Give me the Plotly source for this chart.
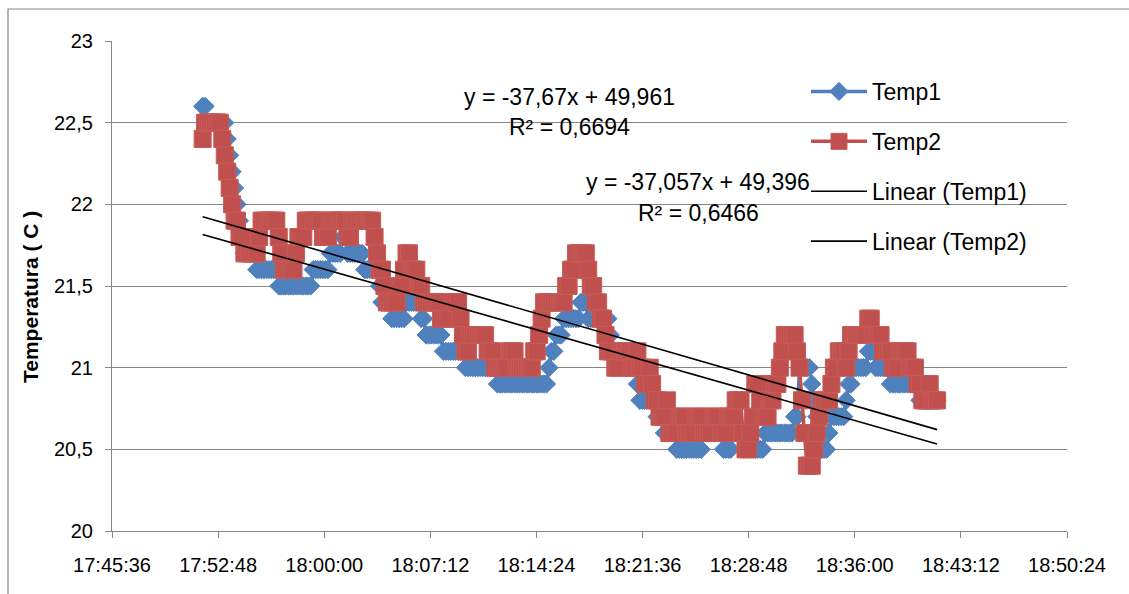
import pandas as pd
import plotly.graph_objects as go

# Logger readings, one sample every 10 s
START = "2013-05-20 17:51:45"
STEP_S = 10

temp1 = [
    22.6, 22.6, 22.5, 22.5, 22.5, 22.5, 22.5, 22.5, 22.5, 22.5,
    22.4, 22.3, 22.2, 22.1, 22.0, 21.9, 21.8, 21.7, 21.7, 21.7,
    21.7, 21.7, 21.6, 21.6, 21.6, 21.6, 21.6, 21.6, 21.6, 21.6,
    21.6, 21.5, 21.5, 21.5, 21.5, 21.5, 21.5, 21.5, 21.5, 21.5,
    21.5, 21.5, 21.5, 21.5, 21.5, 21.6, 21.6, 21.6, 21.6, 21.6,
    21.6, 21.6, 21.7, 21.7, 21.7, 21.7, 21.7, 21.8, 21.8, 21.7,
    21.7, 21.7, 21.7, 21.7, 21.7, 21.7, 21.6, 21.6, 21.6, 21.6,
    21.6, 21.6, 21.5, 21.4, 21.4, 21.4, 21.4, 21.3, 21.3, 21.3,
    21.3, 21.3, 21.3, 21.4, 21.4, 21.4, 21.4, 21.4, 21.4, 21.3,
    21.3, 21.2, 21.2, 21.2, 21.2, 21.2, 21.2, 21.2, 21.1, 21.1,
    21.1, 21.1, 21.1, 21.1, 21.1, 21.1, 21.1, 21.0, 21.0, 21.0,
    21.0, 21.0, 21.0, 21.0, 21.0, 21.0, 21.0, 21.0, 21.0, 21.0,
    20.9, 20.9, 20.9, 20.9, 20.9, 20.9, 20.9, 20.9, 20.9, 20.9,
    20.9, 20.9, 20.9, 20.9, 20.9, 20.9, 20.9, 20.9, 20.9, 20.9,
    20.9, 21.0, 21.1, 21.1, 21.2, 21.2, 21.2, 21.3, 21.3, 21.3,
    21.3, 21.3, 21.3, 21.3, 21.4, 21.4, 21.4, 21.3, 21.3, 21.3,
    21.3, 21.3, 21.3, 21.3, 21.3, 21.3, 21.2, 21.1, 21.1, 21.1,
    21.1, 21.0, 21.0, 21.0, 21.0, 21.0, 21.0, 20.9, 20.8, 20.8,
    20.8, 20.8, 20.8, 20.8, 20.8, 20.7, 20.7, 20.7, 20.6, 20.6,
    20.6, 20.6, 20.6, 20.5, 20.5, 20.5, 20.5, 20.5, 20.5, 20.5,
    20.5, 20.5, 20.5, 20.5, 20.6, 20.6, 20.6, 20.6, 20.6, 20.6,
    20.6, 20.6, 20.5, 20.5, 20.5, 20.5, 20.6, 20.6, 20.6, 20.6,
    20.6, 20.6, 20.6, 20.6, 20.6, 20.5, 20.5, 20.5, 20.5, 20.6,
    20.6, 20.6, 20.6, 20.6, 20.6, 20.6, 20.6, 20.6, 20.6, 20.6,
    20.6, 20.7, 20.7, 21.0, 21.0, 21.0, 21.0, 21.0, 20.9, 20.8,
    20.7, 20.6, 20.5, 20.5, 20.5, 20.6, 20.7, 20.7, 20.7, 20.7,
    20.7, 20.7, 20.8, 20.9, 20.9, 21.0, 21.0, 21.0, 21.0, 21.0,
    21.0, 21.1, 21.1, 21.1, 21.0, 21.0, 21.0, 21.0, 21.0, 21.0,
    20.9, 20.9, 20.9, 20.9, 20.9, 20.9, 20.9, 20.9, 20.9, 20.9,
    20.9, 20.9, 20.8, 20.8, 20.8, 20.8, 20.8, 20.8, 20.8, 20.8,
]

temp2 = [
    22.4, 22.5, 22.5, 22.5, 22.5, 22.5, 22.5, 22.5, 22.4, 22.3,
    22.2, 22.1, 22.0, 21.9, 21.9, 21.8, 21.8, 21.7, 21.7, 21.7,
    21.7, 21.7, 21.7, 21.8, 21.9, 21.9, 21.9, 21.9, 21.9, 21.9,
    21.9, 21.8, 21.7, 21.6, 21.6, 21.6, 21.6, 21.6, 21.7, 21.8,
    21.8, 21.8, 21.9, 21.9, 21.9, 21.9, 21.9, 21.9, 21.9, 21.8,
    21.8, 21.8, 21.9, 21.9, 21.9, 21.9, 21.9, 21.9, 21.9, 21.8,
    21.8, 21.9, 21.9, 21.9, 21.9, 21.9, 21.9, 21.9, 21.9, 21.9,
    21.8, 21.7, 21.6, 21.6, 21.5, 21.4, 21.4, 21.4, 21.4, 21.4,
    21.5, 21.5, 21.6, 21.7, 21.7, 21.6, 21.6, 21.6, 21.5, 21.5,
    21.4, 21.4, 21.4, 21.4, 21.4, 21.4, 21.4, 21.3, 21.3, 21.3,
    21.3, 21.4, 21.4, 21.4, 21.4, 21.3, 21.2, 21.1, 21.1, 21.2,
    21.2, 21.2, 21.2, 21.2, 21.2, 21.2, 21.1, 21.1, 21.1, 21.0,
    21.0, 21.0, 21.0, 21.0, 21.0, 21.1, 21.1, 21.1, 21.0, 21.0,
    21.0, 21.0, 21.0, 21.0, 21.0, 21.1, 21.1, 21.2, 21.3, 21.4,
    21.4, 21.4, 21.4, 21.4, 21.4, 21.4, 21.4, 21.4, 21.5, 21.5,
    21.6, 21.6, 21.7, 21.7, 21.7, 21.7, 21.7, 21.6, 21.5, 21.5,
    21.4, 21.4, 21.3, 21.3, 21.2, 21.1, 21.1, 21.1, 21.0, 21.0,
    21.1, 21.1, 21.1, 21.1, 21.1, 21.0, 21.0, 21.1, 21.0, 21.0,
    20.9, 20.9, 21.0, 20.9, 20.8, 20.8, 20.7, 20.7, 20.7, 20.8,
    20.6, 20.6, 20.6, 20.6, 20.7, 20.7, 20.7, 20.6, 20.6, 20.6,
    20.6, 20.7, 20.7, 20.7, 20.6, 20.6, 20.6, 20.6, 20.7, 20.7,
    20.7, 20.6, 20.6, 20.6, 20.7, 20.7, 20.7, 20.8, 20.8, 20.8,
    20.6, 20.5, 20.5, 20.6, 20.7, 20.9, 20.9, 20.8, 20.7, 20.7,
    20.7, 20.8, 20.8, 20.9, 20.9, 21.0, 21.1, 21.2, 21.2, 21.2,
    21.2, 21.2, 21.1, 21.0, 20.8, 20.6, 20.4, 20.4, 20.4, 20.5,
    20.6, 20.7, 20.8, 20.8, 20.8, 20.8, 20.9, 21.0, 21.0, 21.1,
    21.1, 21.1, 21.0, 21.1, 21.2, 21.2, 21.2, 21.2, 21.2, 21.2,
    21.2, 21.3, 21.3, 21.2, 21.2, 21.2, 21.2, 21.1, 21.1, 21.1,
    21.1, 21.0, 21.0, 21.0, 21.1, 21.1, 21.1, 21.1, 21.0, 21.0,
    21.0, 20.9, 20.9, 20.8, 20.8, 20.8, 20.9, 20.8, 20.8, 20.8,
]

series_names = ["Temp1", "Temp2"]
# Linear trend coefficients (x = time as fraction of a day)
trend_slopes = [-37.67, -37.057]
trend_intercepts = [49.961, 49.396]
trend_r2 = [0.6694, 0.6466]

# Axis settings
X_START = "2013-05-20 17:45:36"
X_END = "2013-05-20 18:50:24"
X_STEP_MS = 432000  # 7 min 12 s
Y_RANGE = [20, 23]

BLUE = "#4F81BD"
RED = "#C0504D"
GRID = "#868686"
FONT = "Liberation Sans, Arial, sans-serif"

times = pd.date_range(START, periods=len(temp1), freq=f"{STEP_S}s")
day_frac = (times - times.normalize()).total_seconds() / 86400.0

fig = go.Figure()

fig.add_trace(go.Scatter(
    x=times, y=temp1, name=series_names[0], mode="lines+markers",
    line=dict(color=BLUE, width=3.5),
    marker=dict(symbol="diamond", size=14, color=BLUE, line=dict(color=BLUE, width=1)),
    legendgroup="a",
))
fig.add_trace(go.Scatter(
    x=times, y=temp2, name=series_names[1], mode="lines+markers",
    line=dict(color=RED, width=3.5),
    marker=dict(symbol="square", size=17, color=RED, line=dict(color="#C65B58", width=1)),
    legendgroup="b",
))

# Trend lines over the span of the readings
ends = [0, len(times) - 1]
for k, name in enumerate(series_names):
    xs = [times[i] for i in ends]
    ys = [trend_slopes[k] * day_frac[i] + trend_intercepts[k] for i in ends]
    fig.add_trace(go.Scatter(
        x=xs, y=ys, name=f"Linear ({name})", mode="lines",
        line=dict(color="black", width=1.6),
        legendgroup=f"t{k}",
    ))


def dec(v):
    return str(v).replace(".", ",")


# plot box in pixels: x 112..1067, y 41..531
def px(x):
    return (x - 112) / 955.0


def py(y):
    return (531 - y) / 490.0


eq_pos = [(569, 97, 127), (698, 182, 213)]
for k in range(2):
    cx, ye, yr = eq_pos[k]
    fig.add_annotation(
        x=px(cx), y=py(ye), xref="paper", yref="paper", showarrow=False,
        text=f"y = {dec(trend_slopes[k])}x + {dec(trend_intercepts[k])}",
        font=dict(size=23, color="black", family=FONT), xanchor="center", yanchor="middle",
    )
    fig.add_annotation(
        x=px(cx), y=py(yr), xref="paper", yref="paper", showarrow=False,
        text=f"R² = {dec(trend_r2[k])}",
        font=dict(size=23, color="black", family=FONT), xanchor="center", yanchor="middle",
    )

fig.add_annotation(
    x=px(30), y=py(297), xref="paper", yref="paper", showarrow=False,
    text="<b>Temperatura ( C )</b>", textangle=-90,
    font=dict(size=21, color="black", family=FONT), xanchor="center", yanchor="middle",
)

# chart frame
fig.add_shape(
    type="rect", xref="paper", yref="paper",
    x0=px(8), x1=px(1220), y0=py(640), y1=py(9),
    line=dict(color=GRID, width=1.2), fillcolor="rgba(0,0,0,0)", layer="below",
)

fig.update_layout(
    width=1129, height=594,
    margin=dict(l=112, r=62, t=41, b=63),
    paper_bgcolor="white", plot_bgcolor="white",
    separators=", ",
    font=dict(family=FONT, color="black"),
    showlegend=True,
    legend=dict(
        x=px(806), y=py(70), xanchor="left", yanchor="top",
        bgcolor="rgba(0,0,0,0)", font=dict(size=23, color="black", family=FONT),
        tracegroupgap=17, itemwidth=56,
    ),
    xaxis=dict(
        type="date", range=[X_START, X_END], tick0=X_START, dtick=X_STEP_MS,
        tickformat="%H:%M:%S", showgrid=False, zeroline=False,
        showline=True, linecolor=GRID, linewidth=1.2,
        ticks="outside", ticklen=6, tickcolor=GRID, tickwidth=1.2,
        tickfont=dict(size=20, color="black", family=FONT), ticklabelstandoff=10,
    ),
    yaxis=dict(
        range=Y_RANGE, dtick=0.5, tick0=20, showgrid=True, gridcolor=GRID, gridwidth=1.2,
        zeroline=False, showline=True, linecolor=GRID, linewidth=1.2,
        ticks="outside", ticklen=6, tickcolor=GRID, tickwidth=1.2,
        tickfont=dict(size=20, color="black", family=FONT), ticklabelstandoff=8,
    ),
)

fig.write_html("out.html")
